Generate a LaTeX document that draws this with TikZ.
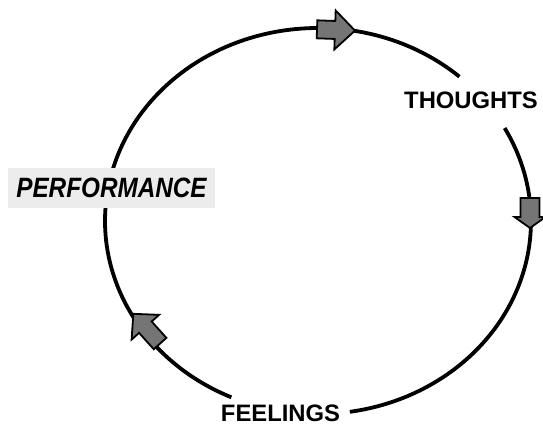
\documentclass[tikz,border=0pt]{standalone}
\usepackage{fontspec}
\setmainfont{Liberation Sans}
\usetikzlibrary{calc}
\begin{document}
\begin{tikzpicture}[x=1pt,y=1pt,
  loopline/.style={line width=3.8pt},
  blockarrow/.style={draw=black, line width=1.8pt, fill=gray!65!black!80, line join=miter},
  lbl/.style={font=\bfseries\fontsize{23.8}{28}\selectfont, inner sep=0pt, anchor=base},
  perfbox/.style={fill=gray!15, minimum width=207pt, minimum height=40pt, inner sep=0pt,
    font=\bfseries\itshape\fontsize{24.3}{28}\selectfont}]
\useasboundingbox (0,0) rectangle (543,427);
\coordinate (c) at (318,206);
\coordinate (t1) at ($(c)+(48.4:213 and 193)$);
\coordinate (f2) at ($(c)+(278.6:213 and 193)$);
% cycle line
\draw[loopline] (t1) arc[start angle=48.4, end angle=246, x radius=213, y radius=193];
\draw[loopline] (f2) arc[start angle=278.6, end angle=388.8, x radius=213, y radius=193];
% block arrows
\filldraw[blockarrow, shift={(336,397)}, rotate=-2]
  (-19,-9) -- (-1,-9) -- (-1,-19.5) -- (19,0) -- (-1,19.5) -- (-1,9) -- (-19,9) -- cycle;
\filldraw[blockarrow, shift={(530,214)}, rotate=-90]
  (-15,-9.5) -- (4,-9.5) -- (4,-15.5) -- (15,0) -- (4,15.5) -- (4,9.5) -- (-15,9.5) -- cycle;
\filldraw[blockarrow, shift={(146.7,98.3)}, rotate=132]
  (-20,-8.5) -- (2,-8.5) -- (2,-18.5) -- (20,0) -- (2,18.5) -- (2,8.5) -- (-20,8.5) -- cycle;
% labels
\node[perfbox] (perf) at (111.5,239) {\scalebox{1}[1.15]{PERFORMANCE}};
\node[lbl] (thoughts) at (471,318) {THOUGHTS};
\node[lbl] (feelings) at (280.5,5) {FEELINGS};
\end{tikzpicture}
\end{document}
